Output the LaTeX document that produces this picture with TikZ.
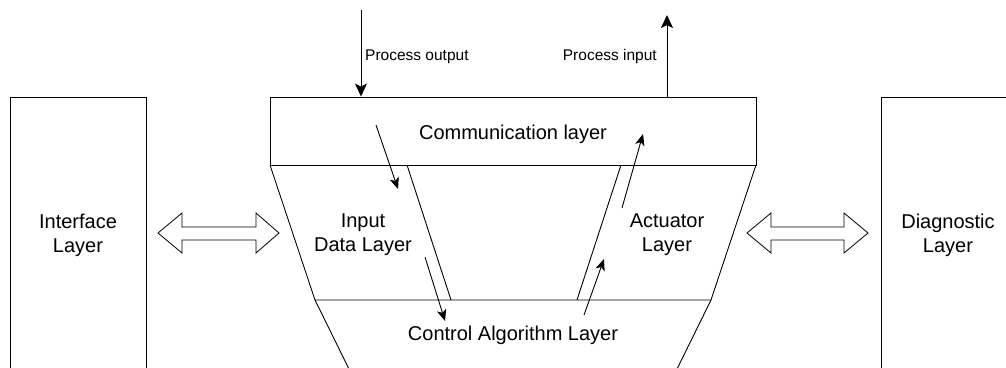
\documentclass[tikz,border=0pt]{standalone}
\usepackage{fontspec}
\setmainfont{Liberation Sans}
\usetikzlibrary{arrows.meta}
\begin{document}
\begin{tikzpicture}[x=1pt,y=-1pt,
  ln/.style={draw=black, line width=0.9pt},
  bigtip/.style={ln,-{Stealth[length=13pt,width=12pt,inset=3pt]}},
  smalltip/.style={ln,-{Stealth[length=11.5pt,width=9.5pt,inset=3pt]}},
  lbl/.style={font=\fontsize{20}{24}\selectfont, align=center, inner sep=0pt},
  small/.style={font=\fontsize{15.5}{18}\selectfont, inner sep=0pt},
  dbl/.style={draw=black, line width=0.8pt, fill=white}]
\useasboundingbox (0,0) rectangle (1006,367);
\clip (0,0) rectangle (1006,367);

% side boxes (open past the page edges)
\draw[ln] (10,400) -- (10,97) -- (146,97) -- (146,400);
\draw[ln] (881,400) -- (881,97) -- (1020,97);
\node[lbl] (iface) at (78,235) {Interface\\Layer};
\node[lbl] (diag) at (948,235) {Diagnostic\\Layer};

% communication layer
\node[ln, minimum width=486pt, minimum height=68pt, inner sep=0pt] (comm) at (513,131) {};
\node[lbl, anchor=base] (commt) at (513,139) {Communication layer};

% upper trapezoid
\coordinate (tl) at (270,165);
\coordinate (tr) at (756,165);
\coordinate (bl) at (315,300);
\coordinate (br) at (711,300);
\draw[ln] (tl) -- (bl) -- (br) -- (tr);
% lower trapezoid sides
\coordinate (ll) at (354.4,380);
\coordinate (lr) at (671.6,380);
\draw[ln] (bl) -- (ll);
\draw[ln] (br) -- (lr);

% inner slanted lines
\coordinate (ia) at (407,165); \coordinate (ib) at (451,300);
\coordinate (aa) at (621,165); \coordinate (ab) at (577,300);
\draw[ln] (ia) -- (ib);
\draw[ln] (aa) -- (ab);

\node[lbl] (input) at (363,235) {Input\\Data Layer};
\node[lbl] (act) at (667,235) {Actuator\\Layer};
\node[lbl, anchor=base] (ctrl) at (513,340) {Control Algorithm Layer};

% process arrows
\coordinate (po) at (361,10);
\coordinate (pi) at (667,15);
\draw[bigtip] (po) -- (po |- comm.north);
\draw[bigtip] (comm.north -| pi) -- (pi);
\node[small, anchor=base west] (pot) at (365,60) {Process output};
\node[small, anchor=base east] (pit) at (657,60) {Process input};

% internal flow arrows
\coordinate (f1s) at (376,125); \coordinate (f1e) at (398,189);
\coordinate (f2s) at (425,257); \coordinate (f2e) at (445,321);
\coordinate (f3s) at (622,208); \coordinate (f3e) at (643,134);
\coordinate (f4s) at (584,315); \coordinate (f4e) at (604,259);
\draw[smalltip] (f1s) -- (f1e);
\draw[smalltip] (f2s) -- (f2e);
\draw[smalltip] (f3s) -- (f3e);
\draw[smalltip] (f4s) -- (f4e);

% double-headed block arrows
\draw[dbl] (158,233) -- (182,213) -- (182,227) -- (256,227) -- (256,213) -- (279,233)
  -- (256,253) -- (256,240) -- (182,240) -- (182,253) -- cycle;
\draw[dbl] (747,233) -- (771,213) -- (771,227) -- (844,227) -- (844,213) -- (868,233)
  -- (844,253) -- (844,240) -- (771,240) -- (771,253) -- cycle;
\end{tikzpicture}
\end{document}
